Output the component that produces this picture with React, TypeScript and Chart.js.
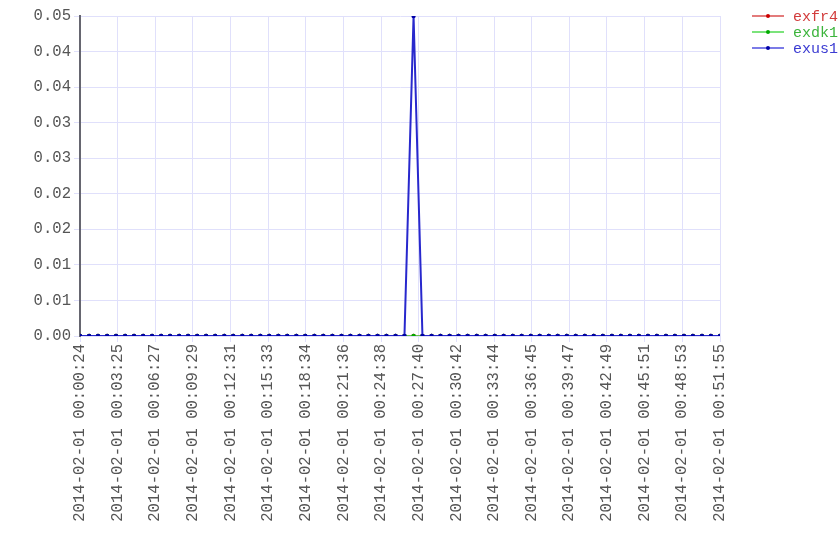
import React, { useEffect, useRef } from "react";
import { Chart, registerables } from "chart.js";

Chart.register(...registerables);

const DATE = "2014-02-01";

const sampleTimes = [
  "00:00:24", "00:01:08", "00:01:51", "00:02:35", "00:03:18", "00:04:02", "00:04:45", "00:05:29",
  "00:06:12", "00:06:56", "00:07:39", "00:08:23", "00:09:06", "00:09:50", "00:10:33", "00:11:17",
  "00:12:01", "00:12:44", "00:13:28", "00:14:11", "00:14:55", "00:15:38", "00:16:22", "00:17:05",
  "00:17:49", "00:18:32", "00:19:16", "00:19:59", "00:20:43", "00:21:27", "00:22:10", "00:22:54",
  "00:23:37", "00:24:21", "00:25:04", "00:25:48", "00:26:31", "00:27:15", "00:27:58", "00:28:42",
  "00:29:25", "00:30:09", "00:30:52", "00:31:36", "00:32:20", "00:33:03", "00:33:47", "00:34:30",
  "00:35:14", "00:35:57", "00:36:41", "00:37:24", "00:38:08", "00:38:51", "00:39:35", "00:40:18",
  "00:41:02", "00:41:45", "00:42:29", "00:43:13", "00:43:56", "00:44:40", "00:45:23", "00:46:07",
  "00:46:50", "00:47:34", "00:48:17", "00:49:01", "00:49:44", "00:50:28", "00:51:11", "00:51:55",
];

const exfr4 = [
  0, 0, 0, 0, 0, 0, 0, 0, 0, 0, 0, 0, 0, 0, 0, 0, 0, 0, 0, 0, 0, 0, 0, 0,
  0, 0, 0, 0, 0, 0, 0, 0, 0, 0, 0, 0, 0, 0, 0, 0, 0, 0, 0, 0, 0, 0, 0, 0,
  0, 0, 0, 0, 0, 0, 0, 0, 0, 0, 0, 0, 0, 0, 0, 0, 0, 0, 0, 0, 0, 0, 0, 0,
];

const exdk1 = [
  0, 0, 0, 0, 0, 0, 0, 0, 0, 0, 0, 0, 0, 0, 0, 0, 0, 0, 0, 0, 0, 0, 0, 0,
  0, 0, 0, 0, 0, 0, 0, 0, 0, 0, 0, 0, 0, 0, 0, 0, 0, 0, 0, 0, 0, 0, 0, 0,
  0, 0, 0, 0, 0, 0, 0, 0, 0, 0, 0, 0, 0, 0, 0, 0, 0, 0, 0, 0, 0, 0, 0, 0,
];

const exus1 = [
  0, 0, 0, 0, 0, 0, 0, 0, 0, 0, 0, 0, 0, 0, 0, 0, 0, 0, 0, 0, 0, 0, 0, 0,
  0, 0, 0, 0, 0, 0, 0, 0, 0, 0, 0, 0, 0, 0.05, 0, 0, 0, 0, 0, 0, 0, 0, 0, 0,
  0, 0, 0, 0, 0, 0, 0, 0, 0, 0, 0, 0, 0, 0, 0, 0, 0, 0, 0, 0, 0, 0, 0, 0,
];

const xTickTimes = [
  "00:00:24", "00:03:25", "00:06:27", "00:09:29", "00:12:31", "00:15:33",
  "00:18:34", "00:21:36", "00:24:38", "00:27:40", "00:30:42", "00:33:44",
  "00:36:45", "00:39:47", "00:42:49", "00:45:51", "00:48:53", "00:51:55",
];

const Y_MAX = 0.05;
const Y_STEPS = 9;
const yTickLabels = ["0.00", "0.01", "0.01", "0.02", "0.02", "0.03", "0.03", "0.04", "0.04", "0.05"];

const seriesNames = ["exfr4", "exdk1", "exus1"];
const lineColors = ["rgba(225,70,70,0.75)", "rgba(70,215,70,0.75)", "rgb(40,40,205)"];
const legendLineColors = ["rgba(220,90,90,0.8)", "rgba(90,220,90,0.8)", "rgba(90,90,225,0.8)"];
const pointColors = ["#cc0000", "#00aa00", "#0000a8"];
const textColors = ["#d23c3c", "#3cb43c", "#3c3cd2"];

const toSec = (t: string) => {
  const [h, m, s] = t.split(":").map(Number);
  return h * 3600 + m * 60 + s;
};

const FONT = "'Liberation Mono', 'DejaVu Sans Mono', monospace";
const FSIZE = 15.6;

export default function App() {
  const ref = useRef<HTMLCanvasElement | null>(null);

  useEffect(() => {
    document.body.style.margin = "0";
    const canvas = ref.current!;
    const seriesData = [exfr4, exdk1, exus1];

    const legendPlugin = {
      id: "customLegend",
      afterDraw(chart: any) {
        const ctx = chart.ctx;
        ctx.save();
        ctx.font = `15px ${FONT}`;
        ctx.textBaseline = "middle";
        seriesNames.forEach((name, i) => {
          const y = 16 + i * 16;
          ctx.strokeStyle = legendLineColors[i];
          ctx.lineWidth = 2;
          ctx.beginPath();
          ctx.moveTo(752, y);
          ctx.lineTo(784, y);
          ctx.stroke();
          ctx.fillStyle = pointColors[i];
          ctx.beginPath();
          ctx.arc(768, y, 2, 0, Math.PI * 2);
          ctx.fill();
          ctx.fillStyle = textColors[i];
          ctx.fillText(name, 793, y + 1);
        });
        ctx.restore();
      },
    };

    const chart = new Chart(canvas, {
      type: "line",
      data: {
        datasets: seriesNames.map((name, i) => ({
          label: name,
          data: sampleTimes.map((t, j) => ({ x: toSec(t), y: seriesData[i][j] })),
          borderColor: lineColors[i],
          backgroundColor: pointColors[i],
          pointBackgroundColor: pointColors[i],
          pointBorderWidth: 0,
          pointRadius: 2.2,
          borderWidth: 2,
          tension: 0,
          order: 3 - i,
        })),
      },
      options: {
        animation: false,
        responsive: false,
        maintainAspectRatio: false,
        layout: { padding: { top: 16, right: 120, left: 0, bottom: 0 } },
        plugins: {
          legend: { display: false },
          tooltip: { enabled: false },
        },
        scales: {
          x: {
            type: "linear",
            min: toSec(xTickTimes[0]),
            max: toSec(xTickTimes[xTickTimes.length - 1]),
            afterBuildTicks: (scale: any) => {
              scale.ticks = xTickTimes.map((t) => ({ value: toSec(t) }));
            },
            afterFit: (scale: any) => {
              scale.height = 224;
            },
            grid: { color: "#e0e0fb", lineWidth: 1, tickLength: 6 },
            border: { display: false },
            ticks: {
              autoSkip: false,
              maxRotation: 90,
              minRotation: 90,
              padding: 2,
              color: "#555",
              font: { family: FONT, size: FSIZE },
              callback: (_v: any, i: number) => `${DATE} ${xTickTimes[i]}`,
            },
          },
          y: {
            type: "linear",
            min: 0,
            max: Y_MAX,
            afterBuildTicks: (scale: any) => {
              scale.ticks = yTickLabels.map((_l, i) => ({ value: (Y_MAX / Y_STEPS) * i }));
            },
            afterFit: (scale: any) => {
              scale.width = 80;
            },
            grid: { color: "#e0e0fb", lineWidth: 1, tickLength: 6 },
            border: { color: "#666670", width: 2 },
            ticks: {
              autoSkip: false,
              padding: 3,
              color: "#555",
              font: { family: FONT, size: FSIZE },
              callback: (_v: any, i: number) => yTickLabels[i],
            },
          },
        },
      },
      plugins: [legendPlugin],
    });

    return () => chart.destroy();
  }, []);

  return <canvas ref={ref} width={840} height={560} style={{ display: "block" }} />;
}
